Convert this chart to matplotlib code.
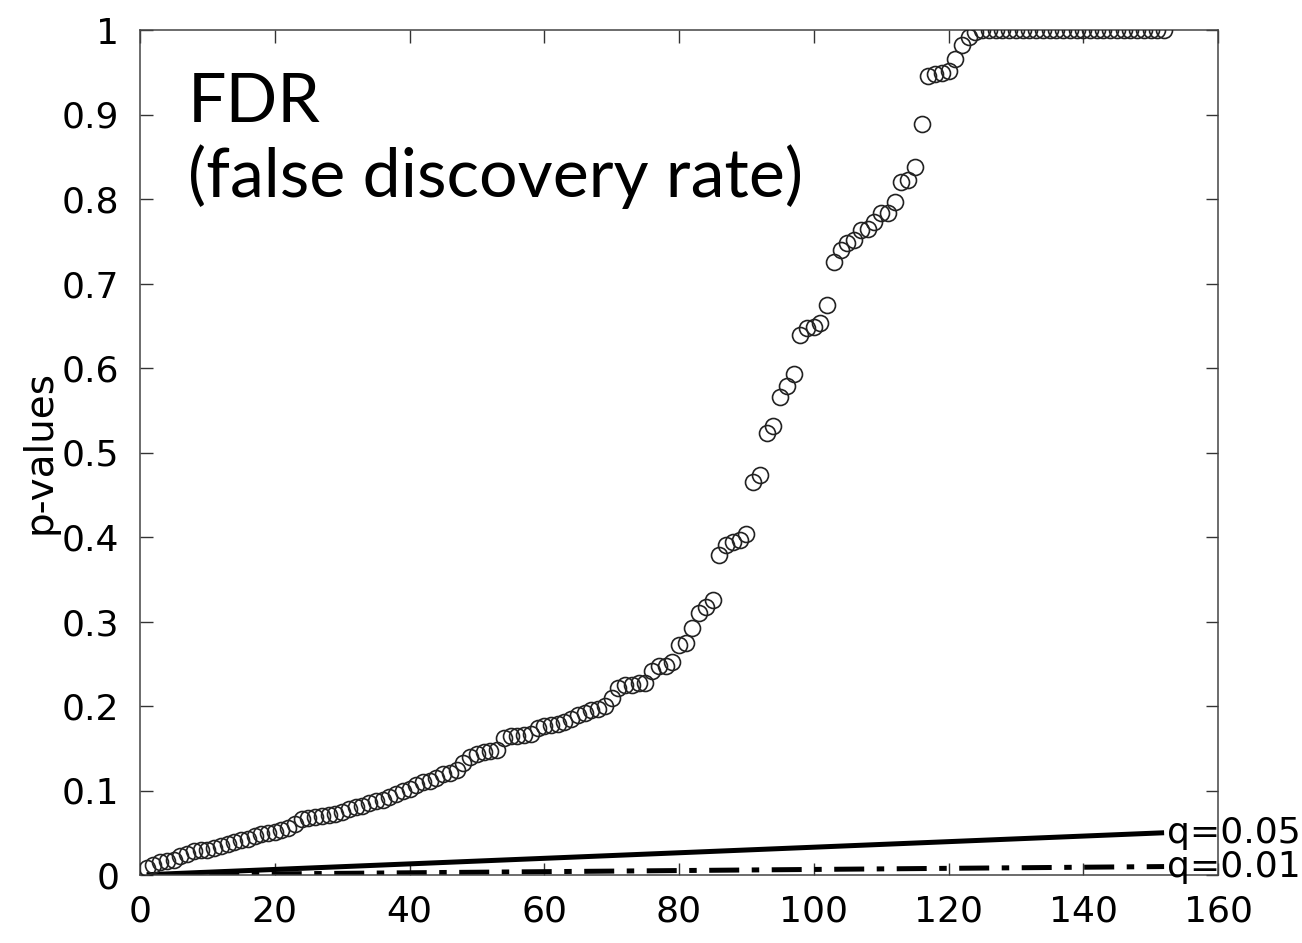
import numpy as np
import matplotlib
matplotlib.use("Agg")
import matplotlib.pyplot as plt

# ---- data ----
pvals_head = [
    0.008, 0.012, 0.015, 0.016, 0.018, 0.022, 0.025, 0.028, 0.029, 0.030,
    0.032, 0.034, 0.037, 0.039, 0.041, 0.043, 0.046, 0.049, 0.050, 0.051,
    0.053, 0.056, 0.060, 0.066, 0.068, 0.069, 0.070, 0.071, 0.072, 0.075,
    0.078, 0.080, 0.082, 0.085, 0.087, 0.089, 0.092, 0.096, 0.100, 0.102,
    0.107, 0.110, 0.111, 0.115, 0.120, 0.121, 0.124, 0.132, 0.140, 0.143,
    0.145, 0.147, 0.148, 0.162, 0.164, 0.165, 0.166, 0.167, 0.174, 0.176,
    0.178, 0.179, 0.181, 0.185, 0.189, 0.192, 0.195, 0.197, 0.200, 0.210,
    0.221, 0.225, 0.225, 0.227, 0.227, 0.241, 0.247, 0.247, 0.252, 0.272,
    0.274, 0.292, 0.310, 0.317, 0.325, 0.379, 0.391, 0.394, 0.396, 0.404,
    0.465, 0.473, 0.523, 0.531, 0.566, 0.579, 0.593, 0.639, 0.647, 0.649,
    0.653, 0.675, 0.725, 0.740, 0.748, 0.751, 0.763, 0.765, 0.773, 0.783,
    0.784, 0.796, 0.820, 0.823, 0.838, 0.889, 0.945, 0.948, 0.949, 0.952,
    0.966, 0.982, 0.992, 0.998,
]
pvals_tail = [1.0] * 28
pvals = pvals_head + pvals_tail
ranks = list(range(1, len(pvals) + 1))

q_levels = [0.05, 0.01]
q_labels = ["q=0.05", "q=0.01"]

x_ticks = [0, 20, 40, 60, 80, 100, 120, 140, 160]
y_ticks = [0, 0.1, 0.2, 0.3, 0.4, 0.5, 0.6, 0.7, 0.8, 0.9, 1]
y_tick_labels = ["0", "0.1", "0.2", "0.3", "0.4", "0.5", "0.6", "0.7", "0.8", "0.9", "1"]

title_text = "FDR\n(false discovery rate)"
y_label = "p-values"

# ---- figure ----
fig = plt.figure(figsize=(13.02, 9.43), dpi=100)
ax = fig.add_axes([140 / 1302, 1 - 875 / 943, (1218 - 140) / 1302, (875 - 30) / 943])

tick_font = "DejaVu Sans"

n = len(pvals)
r = np.array(ranks, dtype=float)

# BH threshold lines
ax.plot(r, q_levels[0] * r / n, color="black", lw=3.6, solid_capstyle="butt", zorder=2)
ax.plot(r, q_levels[1] * r / n, color="black", lw=3.6, dashes=(6, 2.5, 1.5, 2.5), zorder=2)

# p-values
ax.plot(ranks, pvals, linestyle="none", marker="o", markersize=11.5,
        markerfacecolor="none", markeredgecolor="#222222", markeredgewidth=1.2, zorder=3)

for q, lab in zip(q_levels, q_labels):
    ax.text(r[-1] + 0.4, q * r[-1] / n, lab, fontsize=26, family=tick_font,
            va="center", ha="left", clip_on=False)

ax.set_xlim(0, 160)
ax.set_ylim(0, 1)
ax.set_xticks(x_ticks)
ax.set_yticks(y_ticks)
ax.set_yticklabels(y_tick_labels)
ax.tick_params(direction="in", length=9, width=1, top=True, right=True,
               labelsize=26, colors="#333333", labelcolor="black")
ax.tick_params(axis="y", pad=15)
ax.tick_params(axis="x", pad=14)
for lab in ax.get_xticklabels() + ax.get_yticklabels():
    lab.set_family(tick_font)
for s in ax.spines.values():
    s.set_linewidth(1.1)
    s.set_color("#444444")

ax.set_ylabel(y_label, fontsize=28, family=tick_font, labelpad=2)

ax.text(188 / 1302, 1 - 72 / 943, title_text, transform=fig.transFigure,
        fontsize=49, family="Lato", va="top", ha="left", linespacing=1.2)

fig.savefig("out.png", dpi=100)
